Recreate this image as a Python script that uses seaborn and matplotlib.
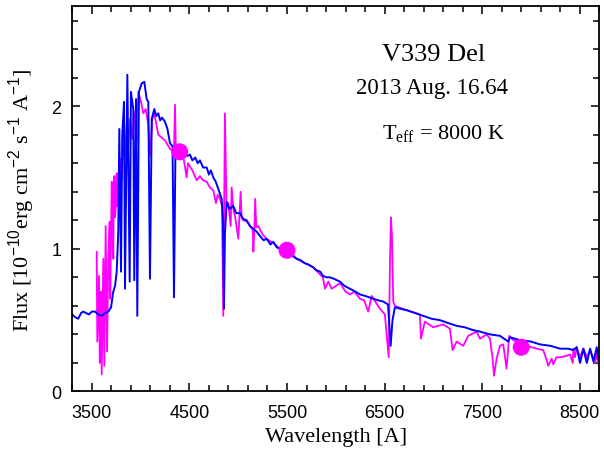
import matplotlib
matplotlib.use("Agg")
import matplotlib.pyplot as plt
from matplotlib.ticker import FixedLocator, MultipleLocator
import seaborn as sns

# model spectrum, Teff = 8000 K (blue)
model_wave = [3300, 3330, 3361, 3390, 3413, 3440, 3471, 3500, 3533, 3565, 3601, 3635,
              3669, 3697, 3720, 3738, 3755, 3771,
              3782, 3799, 3812, 3830, 3840, 3864, 3874, 3888, 3901, 3925, 3935, 3953,
              3966, 3983, 4011, 4038, 4062, 4079, 4096, 4114, 4140, 4160, 4181, 4200,
              4220, 4250, 4275, 4301,
              4327, 4342, 4357, 4403, 4430, 4450, 4475, 4506, 4530, 4560, 4585, 4608,
              4640, 4677, 4700, 4720, 4745, 4770, 4796, 4831, 4844, 4854, 4864, 4882,
              4910, 4950, 4980, 5018, 5050, 5087, 5120, 5155, 5190, 5223, 5260, 5292,
              5330, 5359, 5395, 5428, 5500, 5550, 5599, 5640, 5680, 5720, 5769, 5800,
              5840, 5870, 5907, 5940, 5980, 6043, 6090,
              6145, 6200, 6248, 6300, 6384, 6430, 6487, 6535, 6562, 6581, 6606, 6660,
              6726, 6810, 6896, 6980, 7067, 7150, 7239, 7320,
              7409, 7477, 7580, 7682, 7767, 7785, 7887, 8000, 8092, 8200, 8297, 8380,
              8433, 8468, 8503, 8537, 8572, 8606, 8640, 8674, 8691]
model_flux = [0.54, 0.52, 0.51, 0.55, 0.56, 0.55, 0.54, 0.56, 0.56, 0.54, 0.53, 0.55,
              0.56, 0.59, 0.70, 0.74, 0.84, 1.12,
              1.84, 0.84, 1.80, 2.03, 0.72, 2.22, 1.63, 0.77, 2.10, 1.98, 0.78, 2.05,
              0.53, 2.10, 2.16, 2.17, 2.05, 2.03, 0.79, 1.91, 1.98, 1.93, 1.95, 1.90,
              1.92, 1.89, 1.84, 1.74,
              1.72, 0.66, 1.70, 1.70, 1.68, 1.71, 1.65, 1.66, 1.62, 1.64, 1.60, 1.62,
              1.57, 1.57, 1.52, 1.55, 1.50, 1.47, 1.42, 1.35, 1.20, 0.58, 1.10, 1.33,
              1.28, 1.30, 1.25, 1.25, 1.21, 1.20, 1.16, 1.14, 1.12, 1.09, 1.06, 1.07,
              1.03, 1.05, 1.01, 1.00, 0.97, 0.96, 0.93, 0.92, 0.90, 0.89, 0.87, 0.85,
              0.84, 0.81, 0.80, 0.80, 0.79, 0.77, 0.74,
              0.72, 0.70, 0.68, 0.67, 0.65, 0.64, 0.63, 0.61, 0.32, 0.50, 0.59, 0.58,
              0.57, 0.55, 0.53, 0.51, 0.50, 0.48, 0.46, 0.45,
              0.43, 0.42, 0.40, 0.39, 0.35, 0.38, 0.36, 0.35, 0.33, 0.32, 0.30, 0.30,
              0.29, 0.31, 0.20, 0.30, 0.20, 0.30, 0.21, 0.31, 0.22]

# observed spectrum (magenta)
obs_wave = [3550, 3556, 3574, 3581, 3594, 3601, 3618, 3628, 3642, 3656, 3669, 3683,
            3689, 3704, 3710, 3720, 3725, 3730, 3735, 3745, 3750, 3755, 3762, 3771,
            3780, 3789, 3806, 3823, 3840, 3857,
            3874, 3891, 3915, 3935, 3960, 3976, 4004, 4027, 4052, 4079, 4096, 4120,
            4140, 4181, 4250, 4301, 4342, 4352, 4362, 4403, 4444, 4472, 4485, 4530,
            4575, 4608, 4640, 4677, 4710, 4745, 4772, 4790, 4813, 4834, 4847, 4864,
            4880, 4898, 4923, 4933, 4950, 4967, 5001, 5012, 5025, 5035, 5052, 5090,
            5121, 5150, 5155, 5165, 5174, 5185, 5206, 5250, 5292, 5360, 5428, 5500,
            5599, 5680, 5769, 5868, 5889, 5923, 5958, 6043, 6100, 6145, 6190, 6248,
            6290, 6333, 6367,
            6452, 6503, 6542, 6555, 6565, 6575, 6589, 6606, 6726, 6862, 6872, 6913,
            6998, 7101, 7169, 7197, 7238, 7306, 7357, 7443, 7477, 7546, 7580, 7607,
            7621, 7648, 7682, 7716, 7750, 7777, 7818, 7956, 8058, 8126, 8160, 8177,
            8212, 8229, 8262, 8297, 8366, 8400, 8428, 8434, 8451, 8468, 8503, 8537,
            8572, 8606, 8657, 8674, 8691]
obs_flux = [0.98, 0.35, 0.81, 0.20, 0.70, 0.12, 0.93, 0.18, 1.16, 0.28, 0.93, 1.19,
            0.65, 1.47, 1.25, 0.93, 1.45, 1.51, 1.22, 1.28, 1.48, 1.53, 1.30, 1.35,
            1.55, 1.63, 1.49, 1.72, 1.65, 1.87,
            1.72, 1.91, 1.77, 1.96, 1.75, 2.10, 2.03, 1.95, 1.98, 1.87, 1.65, 1.91,
            1.95, 1.80, 1.76, 1.70, 1.68, 2.01, 1.68, 1.68, 1.62, 1.50, 1.60, 1.55,
            1.48, 1.51, 1.48, 1.47, 1.43, 1.41, 1.32, 1.38, 1.35, 1.30, 0.53, 1.95,
            1.30, 1.32, 1.16, 1.43, 1.28, 1.23, 1.07, 1.22, 1.40, 1.22, 1.20, 1.19,
            1.16, 1.13, 0.98, 1.12, 1.35, 1.15, 1.16, 1.10, 1.07, 1.04, 1.00, 0.97,
            0.93, 0.90, 0.87, 0.80, 0.72, 0.77, 0.72, 0.76, 0.70, 0.68, 0.70, 0.65,
            0.64, 0.56, 0.67,
            0.58, 0.54, 0.24, 0.90, 1.22, 1.10, 0.63, 0.60, 0.57, 0.54, 0.37, 0.49,
            0.45, 0.47, 0.44, 0.29, 0.35, 0.32, 0.39, 0.42, 0.37, 0.40, 0.37, 0.23,
            0.11, 0.23, 0.32, 0.33, 0.16, 0.39, 0.36, 0.32, 0.30, 0.29, 0.22, 0.18,
            0.23, 0.19, 0.24, 0.24, 0.25, 0.26, 0.20, 0.30, 0.24, 0.31, 0.24, 0.30,
            0.24, 0.29, 0.20, 0.27, 0.19]

# photometric fluxes
phot_wave = [4400, 5500, 7900]
phot_flux = [1.68, 0.99, 0.31]

sns.set_style("ticks")
plt.rcParams['font.family'] = ['Liberation Serif', 'DejaVu Serif']
plt.rcParams['text.color'] = 'black'
plt.rcParams['axes.labelcolor'] = 'black'
plt.rcParams['xtick.color'] = 'black'
plt.rcParams['ytick.color'] = 'black'
plt.rcParams['mathtext.fontset'] = 'custom'
plt.rcParams['mathtext.rm'] = 'Liberation Sans'
plt.rcParams['mathtext.it'] = 'Liberation Sans:italic'
plt.rcParams['mathtext.bf'] = 'Liberation Sans:bold'

fig = plt.figure(figsize=(6.04, 4.56), dpi=100)
ax = fig.add_axes([0.1197, 0.1393, 0.8725, 0.8447])

sns.lineplot(x=obs_wave, y=obs_flux, estimator=None, sort=False,
             color='#ff00ff', lw=1.3, zorder=2, ax=ax)
sns.lineplot(x=model_wave, y=model_flux, estimator=None, sort=False,
             color='#0000ff', lw=1.4, zorder=3, ax=ax)
sns.scatterplot(x=phot_wave, y=phot_flux, color='#ff00ff', s=150,
                edgecolor='none', zorder=5, ax=ax)

ax.set_xlim(3300, 8700)
ax.set_ylim(0, 2.7)
ax.xaxis.set_major_locator(FixedLocator([3500, 4500, 5500, 6500, 7500, 8500]))
ax.xaxis.set_minor_locator(MultipleLocator(200, offset=100))
ax.yaxis.set_major_locator(FixedLocator([0, 1, 2]))
ax.yaxis.set_minor_locator(MultipleLocator(0.2))

ax.tick_params(which='both', direction='in', top=True, right=True,
               width=1.1, color='black')
ax.tick_params(which='major', length=6, labelsize=13,
               labelfontfamily='Liberation Sans')
ax.tick_params(axis='x', which='major', pad=9)
ax.tick_params(axis='y', which='major', pad=8)
ax.tick_params(which='minor', length=4)
for sp in ax.spines.values():
    sp.set_linewidth(1.3)
    sp.set_color('black')
    sp.set_zorder(6)

ax.set_xlabel('Wavelength [A]', fontsize=16, labelpad=4)
ax.set_ylabel(r'Flux [10$^{-10}$erg cm$^{-2}$ s$^{-1}$ A$^{-1}$]', fontsize=16,
              labelpad=10)

ax.text(0.686, 0.861, 'V339 Del', transform=ax.transAxes, ha='center',
        va='baseline', fontsize=19)
ax.text(0.683, 0.774, '2013 Aug. 16.64', transform=ax.transAxes, ha='center',
        va='baseline', fontsize=16.5)
ax.text(0.705, 0.656, r'T$_{\mathregular{eff}}$ = 8000 K', transform=ax.transAxes,
        ha='center', va='baseline', fontsize=16)

fig.savefig('out.png', dpi=100)
